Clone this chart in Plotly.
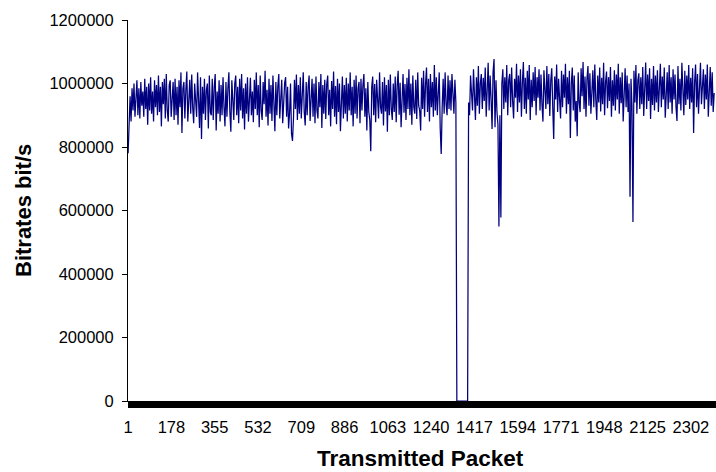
import plotly.graph_objects as go

# One bitrate reading every SAMPLE_STEP transmitted packets
SAMPLE_STEP = 4

# Bitrate in kbit/s before the link outage
rate_before_kbit = [
    780, 905, 960, 880, 985, 915, 1000, 895, 970, 1010, 900, 985, 890, 1005, 930, 975,
    895, 1015, 920, 990, 870, 1000, 915, 1020, 905, 975, 880, 1010, 925, 995, 900, 1025,
    910, 990, 865, 1005, 935, 1015, 890, 1030, 915, 880, 995, 1010, 895, 970, 1005, 885,
    1015, 900, 990, 870, 1010, 925, 1035, 844, 985, 1005, 890, 980, 1038, 880, 960, 1012,
    905, 1028, 925, 875, 1000, 940, 895, 1035, 915, 860, 1020, 825, 990, 905, 1015, 885,
    980, 1000, 858, 1025, 910, 900, 1015, 885, 990, 1030, 852, 975, 905, 1010, 880, 995,
    900, 1020, 925, 865, 1005, 895, 985, 1035, 910, 848, 1010, 930, 885, 1000, 1025, 900,
    990, 875, 1015, 915, 1030, 890, 985, 855, 1000, 905, 1020, 880, 990, 1018, 900, 975,
    878, 1012, 920, 1035, 900, 995, 862, 1025, 915, 885, 1005, 935, 1040, 895, 980, 868,
    1015, 905, 995, 882, 1025, 920, 850, 1005, 900, 990, 1030, 890, 985, 1012, 875, 970,
    1002, 1020, 895, 990, 858, 905, 1000, 842, 819, 890, 1012, 920, 1028, 885, 995, 905,
    1020, 890, 985, 1035, 910, 868, 1005, 900, 990, 1025, 882, 975, 1015, 895, 1000, 875,
    1022, 915, 890, 1005, 925, 1030, 860, 995, 905, 1012, 888, 998, 1025, 900, 980, 865,
    1008, 920, 1038, 895, 992, 872, 1015, 910, 1000, 850, 985, 1022, 890, 995, 905, 1018,
    880, 1000, 915, 1035, 900, 990, 865, 1012, 905, 1025, 890, 985, 1005, 875, 1015, 915,
    995, 1030, 895, 985, 852, 1005, 910, 885, 787, 990, 1022, 900, 998, 878, 1012, 918,
    890, 1035, 925, 905, 1005, 868, 1020, 912, 995, 848, 1012, 900, 1028, 920, 885, 1000,
    910, 1022, 878, 995, 1040, 902, 1002, 862, 985, 1030, 908, 998, 885, 1018, 920, 1045,
    900, 1000, 870, 1025, 925, 905, 1012, 888, 1035, 930, 915, 852, 1018, 920, 1040, 895,
    998, 1050, 910, 1015, 880, 1030, 925, 1005, 895, 1058, 915, 1020, 900, 1000, 1035, 858,
    778, 925, 1015, 905, 1035, 935, 900, 1025, 920, 1010, 915, 1030, 930, 905, 1012, 940,
]

# Bitrate in kbit/s while the link was down
rate_outage_kbit = [0, 0, 0, 0, 0, 0, 0, 0, 0, 0, 0, 0]

# Bitrate in kbit/s after the link recovered
rate_after_kbit = [
    940, 900, 1025, 960, 915, 1045, 975, 885, 1020, 930, 1055, 905, 1000, 1030, 920, 1018,
    945, 1050, 895, 1005, 1065, 915, 1025, 950, 857, 1035, 1077, 862, 1010, 910, 870, 550,
    900, 578, 1000, 1045, 920, 1020, 940, 1058, 900, 1010, 1030, 925, 1050, 945, 890, 1015,
    955, 1062, 910, 1025, 940, 1045, 895, 1005, 1068, 920, 1018, 905, 1040, 950, 1058, 885,
    1012, 925, 1035, 945, 1052, 900, 1020, 955, 1045, 915, 1028, 935, 880, 1042, 960, 920,
    1055, 935, 1030, 898, 1010, 1048, 925, 825, 1022, 950, 1060, 910, 1015, 945, 890, 1040,
    925, 1028, 955, 1062, 905, 1020, 935, 1040, 828, 1000, 1050, 915, 1025, 880, 945, 834,
    1035, 940, 910, 1048, 960, 1068, 920, 1022, 895, 1015, 1055, 930, 1032, 905, 1010, 1042,
    925, 1060, 950, 885, 1025, 940, 1050, 912, 1018, 935, 1065, 900, 1005, 1038, 922, 1020,
    945, 1052, 895, 1010, 930, 1042, 915, 1028, 950, 1062, 905, 1020, 938, 1035, 880, 1005,
    1048, 925, 1025, 910, 1000, 643, 1015, 930, 564, 1040, 940, 1058, 905, 1010, 1032, 920,
    1020, 935, 1052, 898, 1005, 1066, 920, 1028, 945, 1048, 888, 1015, 932, 1055, 915, 1025,
    940, 1042, 910, 1010, 1062, 925, 1022, 950, 1050, 892, 1005, 1035, 920, 1058, 940, 1020,
    905, 1045, 950, 1028, 925, 882, 1055, 935, 1015, 915, 1065, 955, 900, 1040, 932, 1025,
    950, 1058, 920, 1018, 940, 1048, 844, 1005, 1060, 925, 1030, 905, 1020, 1065, 935, 1010,
    1045, 920, 1028, 950, 1060, 895, 1015, 1052, 930, 1035, 910, 970,
]

# Axis tick labels
x_tick_packets = [1, 178, 355, 532, 709, 886, 1063, 1240, 1417, 1594, 1771, 1948, 2125, 2302]
y_tick_values = [0, 200000, 400000, 600000, 800000, 1000000, 1200000]

rates_kbit = rate_before_kbit + rate_outage_kbit + rate_after_kbit
bitrates = [v * 1000 for v in rates_kbit]
packets = [1 + SAMPLE_STEP * i for i in range(len(bitrates))]

FONT = "Liberation Sans, Arial, sans-serif"

fig = go.Figure(
    go.Scatter(
        x=packets,
        y=bitrates,
        mode="lines",
        line=dict(color="#000080", width=1.25),
        hoverinfo="x+y",
    )
)

fig.update_layout(
    width=716,
    height=472,
    margin=dict(l=128, r=0, t=20, b=71),
    paper_bgcolor="white",
    plot_bgcolor="white",
    showlegend=False,
    font=dict(family=FONT, size=16.5, color="black"),
)

fig.update_xaxes(
    range=[0.5, 2404.5],
    tickmode="array",
    tickvals=x_tick_packets,
    ticktext=[str(v) for v in x_tick_packets],
    ticks="outside",
    ticklen=6,
    tickwidth=1,
    tickcolor="black",
    ticklabelstandoff=5,
    showline=True,
    linecolor="black",
    linewidth=1,
    showgrid=False,
    zeroline=False,
    minor=dict(ticks="outside", ticklen=6, tickwidth=1, tickcolor="black",
               tick0=1, dtick=2, showgrid=False),
)

fig.update_yaxes(
    range=[0, 1200000],
    tickmode="array",
    tickvals=y_tick_values,
    ticktext=[str(v) for v in y_tick_values],
    ticks="outside",
    ticklen=5,
    tickwidth=1,
    tickcolor="black",
    ticklabelstandoff=5,
    showline=True,
    linecolor="black",
    linewidth=1,
    showgrid=False,
    zeroline=False,
)

# Axis titles
fig.add_annotation(
    text="Transmitted Packet",
    xref="paper", yref="paper",
    x=(420 - 128) / 588, y=(401 - 458) / 381,
    xanchor="center", yanchor="middle",
    showarrow=False,
    font=dict(family=FONT, size=22.5, weight="bold", color="black"),
)
fig.add_annotation(
    text="Bitrates bit/s",
    xref="paper", yref="paper",
    x=(24 - 128) / 588, y=(401 - 211) / 381,
    xanchor="center", yanchor="middle",
    textangle=-90,
    showarrow=False,
    font=dict(family=FONT, size=22, weight="bold", color="black"),
)

fig.write_html("out.html")
